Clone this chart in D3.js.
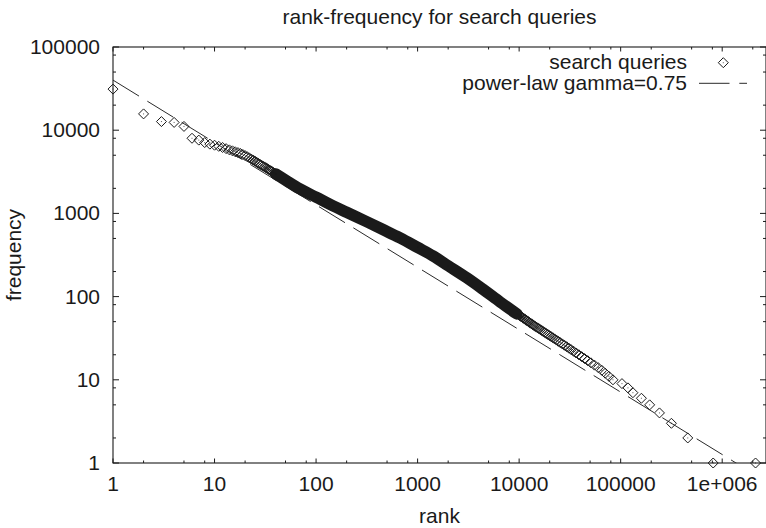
<!DOCTYPE html>
<html>
<head>
<meta charset="utf-8">
<script src="https://cdn.jsdelivr.net/npm/d3@7"></script>
<style>
  html, body { margin: 0; padding: 0; background: #fff; }
  svg text { font-family: "Liberation Sans", Arial, Helvetica, sans-serif; fill: #1a1a1a; }
</style>
</head>
<body>
<svg id="chart" width="766" height="528"></svg>
<script>
// ---- chart data ----
const chartTitle = "rank-frequency for search queries";
const xLabel = "rank";
const yLabel = "frequency";

const xTickValues = [1, 10, 100, 1000, 10000, 100000, 1000000];
const xTickLabels = ["1", "10", "100", "1000", "10000", "100000", "1e+006"];
const yTickValues = [1, 10, 100, 1000, 10000, 100000];
const yTickLabels = ["1", "10", "100", "1000", "10000", "100000"];
const minorSteps = [2, 5, 8];

// most frequent queries, one point per rank
const headRanks = [1, 2, 3, 4, 5, 6, 7, 8, 9, 10,
                   11, 12, 13, 14, 15, 16, 17, 18, 19, 20,
                   21, 22, 23, 24, 25, 26, 27, 28, 29, 30,
                   31, 32, 33, 34, 35, 36, 37, 38, 39, 40];
const headFreqs = [31200, 15700, 12700, 12400, 11100, 8000, 7600, 7100, 6800, 6600,
                   6400, 6200, 6000, 5800, 5650, 5500, 5380, 5250, 5100, 4950,
                   4800, 4650, 4500, 4380, 4250, 4120, 4000, 3900, 3800, 3700,
                   3620, 3540, 3460, 3380, 3310, 3240, 3170, 3100, 3040, 2980];

// middle ranks, where the points overlap into a solid band
const bandRanks = [40, 50, 69, 100, 147, 200, 318, 450, 672, 1000, 1422, 2000, 3077, 4500, 6516, 9500];
const bandFreqs = [2980, 2510, 1972, 1567, 1231, 1031, 790, 644, 507, 390, 308, 235, 167, 120, 86, 62];

// rarer queries, first rank of each frequency level
const tailRanks = [9960, 10150, 10360, 10570, 10790, 11020, 11260, 11510, 11770, 12040,
                   12320, 12620, 12930, 13260, 13590, 13970, 14370, 14790, 15240, 15710,
                   16210, 16730, 17290, 17880, 18510, 19190, 19900, 20670, 21490, 22370,
                   23320, 24330, 25430, 26630, 27940, 29370, 30890, 32560, 34400, 36420,
                   38690, 41210, 44070, 47290, 50970, 55210, 60110, 65240, 70450, 76620,
                   83980, 103000, 118000, 132000, 160000, 193000, 241000, 316000, 458000, 815000,
                   2130000];
const tailFreqs = [60, 59, 58, 57, 56, 55, 54, 53, 52, 51,
                   50, 49, 48, 47, 46, 45, 44, 43, 42, 41,
                   40, 39, 38, 37, 36, 35, 34, 33, 32, 31,
                   30, 29, 28, 27, 26, 25, 24, 23, 22, 21,
                   20, 19, 18, 17, 16, 15, 14, 13, 12, 11,
                   10, 9, 8, 7, 6, 5, 4, 3, 2, 1,
                   1];

// fitted power law f(r) = scale * r^-gamma
const fitGamma = 0.75;
const fitScale = 40000;

// ---- layout ----
const plot = { left: 113, right: 766, top: 47, bottom: 463 };
const ink = "#1a1a1a";

const svg = d3.select("#chart");

const x = d3.scaleLog().domain([1, 2.7e6]).range([plot.left, plot.right]);
const y = d3.scaleLog().domain([1, 100000]).range([plot.bottom, plot.top]);

// minor tick values inside the domain
function minorValues(scale) {
  const [a, b] = scale.domain();
  const out = [];
  for (let d = 1; d <= b; d *= 10) {
    for (const m of minorSteps) {
      const v = d * m;
      if (v >= a && v <= b) out.push(v);
    }
  }
  return out;
}

// ---- frame ----
svg.append("rect")
  .attr("x", plot.left).attr("y", plot.top)
  .attr("width", plot.right - plot.left).attr("height", plot.bottom - plot.top)
  .attr("fill", "none").attr("stroke", ink).attr("stroke-width", 1.1);

// ---- ticks (mirrored on top and right) ----
const ticks = svg.append("g").attr("stroke", ink).attr("stroke-width", 1);
const xMajorLen = 4.5, xMinorLen = 2.5, yMajorLen = 6, yMinorLen = 3;

function xTick(v, len) {
  const px = x(v);
  ticks.append("line").attr("x1", px).attr("x2", px).attr("y1", plot.bottom).attr("y2", plot.bottom - len);
  ticks.append("line").attr("x1", px).attr("x2", px).attr("y1", plot.top).attr("y2", plot.top + len);
}
function yTick(v, len) {
  const py = y(v);
  ticks.append("line").attr("x1", plot.left).attr("x2", plot.left + len).attr("y1", py).attr("y2", py);
  ticks.append("line").attr("x1", plot.right).attr("x2", plot.right - len).attr("y1", py).attr("y2", py);
}
xTickValues.forEach(v => xTick(v, xMajorLen));
minorValues(x).forEach(v => xTick(v, xMinorLen));
yTickValues.forEach(v => yTick(v, yMajorLen));
minorValues(y).forEach(v => yTick(v, yMinorLen));

// ---- tick labels ----
const fontSize = 21;
svg.append("g").selectAll("text").data(xTickValues).join("text")
  .attr("x", d => x(d)).attr("y", 491)
  .attr("text-anchor", "middle").attr("font-size", fontSize)
  .text((d, i) => xTickLabels[i]);

svg.append("g").selectAll("text").data(yTickValues).join("text")
  .attr("x", 100).attr("y", d => y(d) + 7)
  .attr("text-anchor", "end").attr("font-size", fontSize)
  .text((d, i) => yTickLabels[i]);

// ---- titles ----
const midX = (plot.left + plot.right) / 2;
svg.append("text").attr("x", midX).attr("y", 24)
  .attr("text-anchor", "middle").attr("font-size", fontSize).text(chartTitle);
svg.append("text").attr("x", midX).attr("y", 523)
  .attr("text-anchor", "middle").attr("font-size", fontSize).text(xLabel);
svg.append("text")
  .attr("transform", `translate(21,${(plot.top + plot.bottom) / 2}) rotate(-90)`)
  .attr("text-anchor", "middle").attr("font-size", fontSize).text(yLabel);

// ---- clip to plot area ----
svg.append("clipPath").attr("id", "plot-clip")
  .append("rect")
  .attr("x", plot.left).attr("y", plot.top)
  .attr("width", plot.right - plot.left).attr("height", plot.bottom - plot.top);

const dataLayer = svg.append("g").attr("clip-path", "url(#plot-clip)");

// ---- power-law fit ----
const fitLine = d3.line().x(d => x(d)).y(d => y(fitScale * Math.pow(d, -fitGamma)));
dataLayer.append("path")
  .attr("d", fitLine(x.domain()))
  .attr("fill", "none").attr("stroke", "#2a2a2a").attr("stroke-width", 1)
  .attr("stroke-dasharray", "30.5,9.8");

// ---- search query points ----
// the densely packed middle ranks merge into one thick stroke
const bandPts = bandRanks.map((r, i) => [r, bandFreqs[i]]);
dataLayer.append("path")
  .attr("d", d3.line().x(d => x(d[0])).y(d => y(d[1])).curve(d3.curveMonotoneX)(bandPts))
  .attr("fill", "none").attr("stroke", ink).attr("stroke-width", 11.5)
  .attr("stroke-linecap", "round").attr("stroke-linejoin", "round");

const points = [
  ...headRanks.map((r, i) => [r, headFreqs[i]]),
  ...bandPts,
  ...tailRanks.map((r, i) => [r, tailFreqs[i]])
];

const diamondPath = "M0,-5L5,0L0,5L-5,0Z";
function drawDiamond(g, px, py) {
  g.append("path").attr("d", diamondPath)
    .attr("transform", `translate(${px},${py})`)
    .attr("fill", "none").attr("stroke", ink).attr("stroke-width", 1);
  g.append("rect").attr("x", px - 0.5).attr("y", py - 0.5)
    .attr("width", 1).attr("height", 1).attr("fill", ink).attr("opacity", 0.7);
}
const pointLayer = svg.append("g");
points.forEach(d => drawDiamond(pointLayer, x(d[0]), y(d[1])));

// ---- legend ----
const legend = svg.append("g");
legend.append("text").attr("x", 687).attr("y", 69)
  .attr("text-anchor", "end").attr("font-size", fontSize).text("search queries");
drawDiamond(legend, 723.3, 62.7);
legend.append("text").attr("x", 687).attr("y", 90)
  .attr("text-anchor", "end").attr("font-size", fontSize).text("power-law gamma=0.75");
legend.append("line")
  .attr("x1", 699).attr("x2", 747).attr("y1", 83.3).attr("y2", 83.3)
  .attr("stroke", "#2a2a2a").attr("stroke-width", 1)
  .attr("stroke-dasharray", "30.5,9.8");
</script>
</body>
</html>
